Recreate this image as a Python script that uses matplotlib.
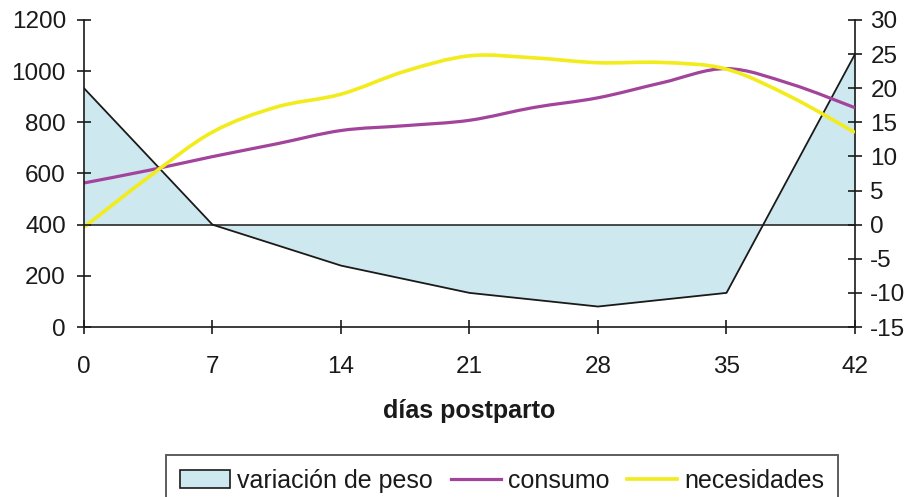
import numpy as np
import matplotlib
matplotlib.use("Agg")
import matplotlib.pyplot as plt
from matplotlib.patches import Patch, PathPatch
from matplotlib.lines import Line2D
from matplotlib.path import Path

plt.rcParams['font.family'] = ['Liberation Sans', 'DejaVu Sans']
plt.rcParams['axes.unicode_minus'] = False

# weekly weight change (right axis)
dias_peso = [0, 7, 14, 21, 28, 35, 42]
variacion_peso = [20, 0, -6, -10, -12, -10, 25]

# intake and requirements (left axis), read every 3.5 days
dias = [0, 3.5, 7, 10.5, 14, 17.5, 21, 24.5, 28, 31.5, 35, 38.5, 42]
consumo = [563, 612, 666, 716, 768, 787, 808, 858, 896, 955, 1010, 950, 857]
necesidades = [390, 585, 762, 860, 910, 1000, 1060, 1052, 1033, 1034, 1008, 900, 760]

x_ticks = [0, 7, 14, 21, 28, 35, 42]
left_ticks = [0, 200, 400, 600, 800, 1000, 1200]
right_ticks = [-15, -10, -5, 0, 5, 10, 15, 20, 25, 30]

fill_col = '#cde8ee'
purple = '#a2449c'
yellow = '#f2ec1c'
txt = '#1a1a1a'
fs = 17.5


def smooth_path(x, y):
    # excel-like smoothed line: catmull-rom segments drawn as cubic beziers
    p = np.column_stack([x, y]).astype(float)
    ext = np.vstack([p[0], p, p[-1]])
    verts = [p[0]]
    codes = [Path.MOVETO]
    for i in range(len(p) - 1):
        p0, p1, p2, p3 = ext[i], ext[i + 1], ext[i + 2], ext[i + 3]
        verts += [p1 + (p2 - p0) / 6, p2 - (p3 - p1) / 6, p2]
        codes += [Path.CURVE4] * 3
    return Path(verts, codes)


fig = plt.figure(figsize=(9.12, 4.97), dpi=100)
ax1 = fig.add_axes([84/912, 1-327/497, (855-84)/912, (327-20)/497])
ax2 = ax1.twinx()

# weight change behind the lines
ax2.set_zorder(ax1.get_zorder() - 1)
ax1.patch.set_visible(False)

ax2.fill_between(dias_peso, variacion_peso, 0, color=fill_col, linewidth=0)
ax2.plot(dias_peso, variacion_peso, color='#1a1a1a', lw=1.3)
ax2.axhline(0, color='#1a1a1a', lw=1.1)

ax1.add_patch(PathPatch(smooth_path(dias, consumo), fill=False, edgecolor=purple,
                        lw=2.3, capstyle='butt'))
ax1.add_patch(PathPatch(smooth_path(dias, necesidades), fill=False, edgecolor=yellow,
                        lw=2.6, capstyle='butt'))

ax1.set_xlim(0, 42)
ax1.set_ylim(0, 1200)
ax2.set_ylim(-15, 30)
ax1.set_xticks(x_ticks)
ax1.set_yticks(left_ticks)
ax2.set_yticks(right_ticks)

for a in (ax1, ax2):
    a.spines['top'].set_visible(False)
    for s in a.spines.values():
        s.set_color('#1a1a1a')
        s.set_linewidth(1.2)
ax1.spines['right'].set_visible(False)
ax2.spines['left'].set_visible(False)
ax2.spines['bottom'].set_visible(False)

ax1.tick_params(axis='both', direction='inout', length=10, width=1.2,
                color='#1a1a1a', labelsize=fs, labelcolor=txt)
ax1.tick_params(axis='y', pad=8)
ax1.tick_params(axis='x', pad=16)
ax2.tick_params(axis='y', direction='inout', length=10, width=1.2,
                color='#1a1a1a', labelsize=fs, labelcolor=txt, pad=6)

ax1.set_xlabel('días postparto', fontsize=18, fontweight='bold', color=txt, labelpad=15)

handles = [Patch(facecolor=fill_col, edgecolor='#1a1a1a', linewidth=1.2),
           Line2D([], [], color=purple, lw=2.3),
           Line2D([], [], color=yellow, lw=2.6)]
labels = ['variación de peso', 'consumo', 'necesidades']
leg = fig.legend(handles, labels, loc='upper left', bbox_to_anchor=(166/912, 1-455/497),
                 ncol=3, fontsize=18, frameon=True, fancybox=False, borderaxespad=0,
                 handlelength=2.0, handletextpad=0.3, columnspacing=0.7,
                 borderpad=0.55, labelcolor=txt)
leg.get_frame().set_edgecolor('#333333')
leg.get_frame().set_linewidth(1.4)

fig.savefig('out.png', dpi=100)
